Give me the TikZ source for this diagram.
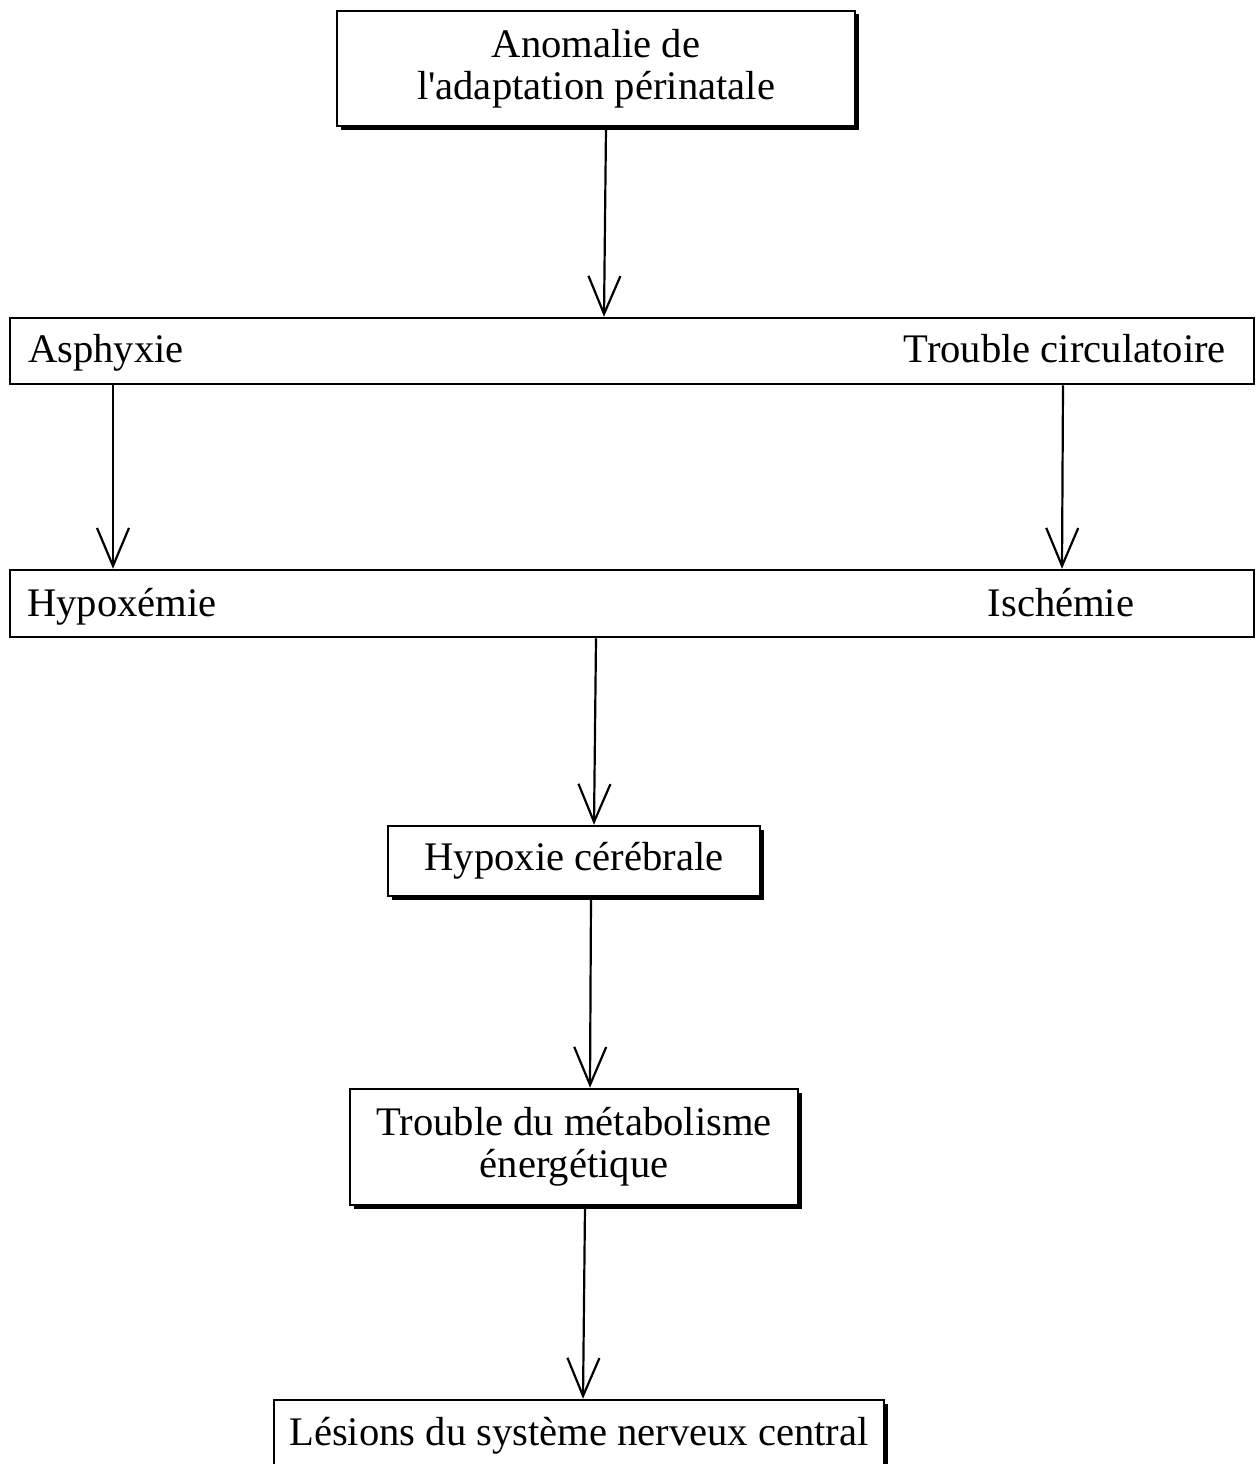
\documentclass[tikz,border=0pt]{standalone}
\usepackage{fontspec}
\setmainfont{Liberation Serif}
\usetikzlibrary{arrows.meta,shadows}
\tikzset{
  box/.style={draw, line width=2.5pt, fill=white, inner sep=0pt, align=center},
  shadowbox/.style={box, drop shadow={shadow xshift=3.5pt, shadow yshift=-3.5pt, fill=black, opacity=1}},
  arr/.style={line width=2.2pt, -{Straight Barb[length=38pt,width=32pt]}},
  lbl/.style={inner sep=0pt}
}

\begin{document}
\begin{tikzpicture}[x=1pt,y=-1pt,font=\fontsize{40.6pt}{42pt}\selectfont]
\useasboundingbox (0,0) rectangle (1258,1464);
\node[shadowbox, minimum width=518pt, minimum height=115pt] (anomalie) at (596,68.5) {Anomalie de\\l\textquotesingle adaptation périnatale};
\node[box, minimum width=1244pt, minimum height=66pt] (causes) at (632,351) {};
\node[lbl, anchor=base west] (asphyxie) at (28,362) {Asphyxie};
\node[lbl, anchor=base east] (circulatoire) at (1226,362) {Trouble circulatoire};
\node[box, minimum width=1244pt, minimum height=67pt] (effets) at (632,603.5) {};
\node[lbl, anchor=base west] (hypoxemie) at (27,616) {Hypoxémie};
\node[lbl, anchor=base] (ischemie) at (1061,616) {Ischémie};
\node[shadowbox, minimum width=372pt, minimum height=70pt] (hypoxie) at (574,861) {Hypoxie cérébrale};
\node[shadowbox, minimum width=448pt, minimum height=116pt] (metabolisme) at (574,1147) {Trouble du métabolisme\\énergétique};
\node[shadowbox, minimum width=610pt, minimum height=72pt] (lesions) at (579,1436) {Lésions du système nerveux central};
\draw[arr] (anomalie.south -| 606,0) -- (causes.north -| 604,0);
\draw[arr] (causes.south -| 113,0) -- (effets.north -| 113,0);
\draw[arr] (causes.south -| 1063,0) -- (effets.north -| 1062,0);
\draw[arr] (effets.south -| 596,0) -- (hypoxie.north -| 594,0);
\draw[arr] (hypoxie.south -| 591,0) -- (metabolisme.north -| 590,0);
\draw[arr] (metabolisme.south -| 585,0) -- (lesions.north -| 583,0);
%\draw[step=100pt,gray,very thin] (0,0) grid (1258,1464);
\end{tikzpicture}
\end{document}
